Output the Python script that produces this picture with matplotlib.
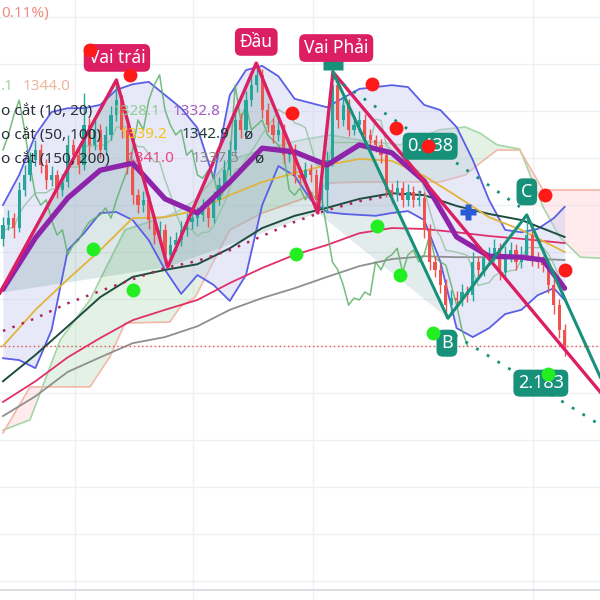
import numpy as np
import pandas as pd
import matplotlib
matplotlib.use("Agg")
import matplotlib.pyplot as plt

plt.rcParams['font.family'] = ['Noto Sans', 'DejaVu Sans']

# ---- OHLC (one candle per session, index 0..104) ----
opens = [1352.8, 1355.7, 1357.2, 1355.1, 1363.2, 1366.4, 1369.6, 1371.7, 1368.5, 1365.3,
         1366.4, 1363.2, 1364.9, 1372.8, 1370.6, 1368.5, 1377.0, 1372.8, 1376.0, 1371.7,
         1374.9, 1379.1, 1382.3, 1376.0, 1368.5, 1362.1, 1360.0, 1361.1, 1356.8, 1353.6,
         1354.7, 1349.4, 1351.5, 1352.5, 1354.7, 1356.4, 1357.2, 1357.9, 1359.4, 1357.2,
         1361.1, 1364.3, 1367.4, 1371.7, 1378.1, 1376.0, 1382.3, 1385.5, 1387.7, 1380.2,
         1377.0, 1374.9, 1376.0, 1370.6, 1371.7, 1366.4, 1365.7, 1367.4, 1366.4, 1361.1,
         1363.2, 1369.6, 1385.5, 1378.1, 1381.3, 1376.0, 1377.0, 1378.1, 1374.9, 1373.8,
         1372.8, 1370.6, 1363.2, 1362.1, 1363.6, 1361.1, 1362.8, 1361.1, 1361.5, 1354.7,
         1347.9, 1346.2, 1343.0, 1338.7, 1340.2, 1339.8, 1341.5, 1340.8, 1347.9, 1346.2,
         1348.7, 1349.4, 1350.8, 1345.7, 1349.4, 1350.4, 1347.9, 1349.4, 1353.6, 1348.7,
         1347.9, 1347.2, 1343.0, 1338.7, 1333.4]
closes = [1355.7, 1357.2, 1355.1, 1363.2, 1366.4, 1369.6, 1371.7, 1368.5, 1365.3, 1366.4,
          1363.2, 1364.9, 1372.8, 1370.6, 1368.5, 1377.0, 1372.8, 1376.0, 1371.7, 1374.9,
          1379.1, 1382.3, 1376.0, 1368.5, 1362.1, 1360.0, 1361.1, 1356.8, 1353.6, 1354.7,
          1349.4, 1351.5, 1352.5, 1354.7, 1356.4, 1357.2, 1357.9, 1359.4, 1357.2, 1361.1,
          1364.3, 1367.4, 1371.7, 1378.1, 1376.0, 1382.3, 1385.5, 1387.7, 1380.2, 1377.0,
          1374.9, 1376.0, 1370.6, 1371.7, 1366.4, 1365.7, 1367.4, 1366.4, 1361.1, 1363.2,
          1369.6, 1385.5, 1378.1, 1381.3, 1376.0, 1377.0, 1378.1, 1374.9, 1373.8, 1372.8,
          1370.6, 1363.2, 1362.1, 1363.6, 1361.1, 1362.8, 1361.1, 1361.5, 1354.7, 1347.9,
          1346.2, 1343.0, 1338.7, 1340.2, 1339.8, 1341.5, 1340.8, 1347.9, 1346.2, 1348.7,
          1349.4, 1350.8, 1345.7, 1349.4, 1350.4, 1347.9, 1349.4, 1353.6, 1348.7, 1347.9,
          1347.2, 1343.0, 1338.7, 1333.4, 1330.0]
highs = [1357.4, 1359.0, 1358.4, 1364.9, 1368.6, 1371.2, 1373.9, 1372.9, 1369.7, 1368.3,
         1367.5, 1366.7, 1374.8, 1374.0, 1371.9, 1383.8, 1378.6, 1378.2, 1377.3, 1376.8,
         1381.0, 1386.6, 1383.5, 1377.4, 1369.8, 1363.5, 1363.0, 1362.2, 1358.0, 1356.6,
         1355.9, 1353.4, 1354.3, 1356.5, 1358.3, 1358.9, 1359.5, 1361.2, 1360.6, 1363.0,
         1366.0, 1369.5, 1373.6, 1380.4, 1379.6, 1384.3, 1387.4, 1390.2, 1388.9, 1381.6,
         1378.5, 1378.0, 1377.2, 1373.5, 1372.9, 1368.1, 1369.2, 1368.8, 1367.6, 1365.0,
         1371.4, 1388.3, 1387.0, 1383.6, 1382.5, 1378.9, 1379.9, 1379.3, 1376.2, 1375.0,
         1374.1, 1371.8, 1364.6, 1365.4, 1364.8, 1364.5, 1364.0, 1363.3, 1362.7, 1355.9,
         1349.2, 1347.4, 1344.3, 1342.0, 1341.6, 1343.2, 1342.8, 1349.9, 1349.1, 1350.5,
         1351.0, 1352.7, 1352.0, 1351.2, 1352.1, 1351.7, 1351.3, 1357.9, 1354.9, 1350.1,
         1349.2, 1348.4, 1344.3, 1340.0, 1334.7]
lows = [1351.3, 1354.6, 1352.9, 1354.3, 1362.0, 1365.1, 1368.4, 1366.8, 1363.5, 1364.0,
        1361.4, 1362.0, 1363.9, 1368.8, 1366.6, 1367.4, 1371.0, 1371.6, 1370.0, 1370.7,
        1373.9, 1377.8, 1374.2, 1366.7, 1360.3, 1358.2, 1358.6, 1355.0, 1351.8, 1352.2,
        1347.2, 1348.0, 1350.2, 1351.3, 1353.5, 1354.8, 1355.6, 1356.5, 1355.4, 1356.1,
        1359.9, 1363.1, 1366.2, 1370.5, 1374.3, 1374.8, 1381.0, 1384.1, 1378.6, 1375.5,
        1373.2, 1373.6, 1368.9, 1369.2, 1364.7, 1364.0, 1364.6, 1365.0, 1358.6, 1359.3,
        1358.3, 1368.2, 1376.4, 1376.9, 1374.6, 1374.8, 1375.6, 1373.4, 1372.3, 1371.2,
        1369.0, 1361.7, 1360.5, 1360.9, 1359.6, 1359.8, 1359.5, 1359.7, 1352.9, 1346.1,
        1344.6, 1341.2, 1335.9, 1337.2, 1338.3, 1338.6, 1339.4, 1339.6, 1344.7, 1345.0,
        1347.3, 1348.1, 1344.0, 1344.5, 1347.9, 1346.2, 1346.6, 1348.2, 1347.0, 1346.5,
        1345.8, 1341.3, 1336.9, 1331.6, 1327.8]

# ---- moving averages, sampled every 6 sessions ----
ma_x = [0, 6, 12, 18, 24, 30, 36, 42, 48, 54, 60, 66, 72, 78, 84, 90, 96, 104]
ma_dark = [1322.5, 1328.1, 1334.2, 1340.4, 1344.7, 1346.2, 1347.4, 1350.8, 1355.1, 1357.7,
           1359.4, 1361.3, 1362.5, 1362.1, 1359.8, 1358.1, 1356.8, 1353.2]
ma_red = [1318.1, 1322.5, 1327.6, 1331.7, 1335.5, 1337.7, 1339.8, 1343.4, 1346.6, 1349.4,
          1351.5, 1354.0, 1355.1, 1354.9, 1354.2, 1353.4, 1352.8, 1351.9]
ma_gray = [1315.1, 1319.3, 1324.5, 1327.6, 1330.6, 1331.9, 1334.2, 1337.7, 1340.2, 1342.3,
           1344.7, 1347.0, 1348.5, 1349.1, 1348.9, 1348.9, 1348.7, 1348.3]
ma_yellow = [1330.0, 1337.7, 1344.2, 1350.4, 1357.2, 1357.4, 1358.9, 1362.1, 1364.9, 1366.8,
             1368.5, 1369.8, 1369.4, 1366.2, 1361.9, 1357.4, 1354.7, 1350.0]
dotted_x = [0, 6, 12, 18, 24, 30, 36, 42, 48, 54, 60, 66, 72, 78]
dotted_ma = [1333.2, 1335.9, 1339.1, 1341.7, 1344.2, 1346.6, 1348.1, 1350.4, 1353.4, 1356.4,
             1358.9, 1360.8, 1362.1, 1362.8]

# ---- Bollinger bands ----
basis_x = [0, 6, 12, 18, 24, 30, 36, 42, 48, 54, 60, 66, 72, 78, 84, 90, 96, 100, 104]
bb_basis = [1342.1, 1353.0, 1361.5, 1367.4, 1368.9, 1361.3, 1358.3, 1364.9, 1372.1, 1371.3,
            1368.5, 1372.8, 1371.1, 1365.1, 1353.2, 1349.1, 1348.9, 1348.3, 1342.3]
band_x = [0, 3, 6, 9, 12, 15, 18, 21, 24, 27, 30, 33, 36, 39, 42, 45, 48, 51, 54, 57,
          60, 63, 66, 69, 72, 75, 78, 81, 84, 87, 90, 93, 96, 99, 102, 104]
bb_upper = [1360.0, 1366.4, 1374.9, 1379.8, 1380.6, 1380.6, 1381.3, 1384.5, 1385.7, 1386.2,
            1383.4, 1380.6, 1376.4, 1365.7, 1383.4, 1388.7, 1389.6, 1387.4, 1382.6, 1381.7,
            1380.8, 1382.8, 1384.7, 1385.1, 1385.5, 1385.1, 1381.3, 1380.2, 1376.6, 1369.6,
            1361.1, 1354.7, 1354.2, 1354.9, 1357.2, 1359.6]
bb_lower = [1327.4, 1327.0, 1325.3, 1333.4, 1350.4, 1354.0, 1358.3, 1358.5, 1356.8, 1352.5,
            1346.2, 1341.1, 1345.1, 1343.0, 1339.6, 1345.1, 1360.0, 1368.3, 1366.2, 1361.1,
            1358.5, 1358.1, 1357.9, 1357.7, 1358.3, 1358.7, 1356.8, 1347.9, 1333.8, 1331.9,
            1333.8, 1336.8, 1337.7, 1340.8, 1342.3, 1339.8]

# ---- Ichimoku cloud ----
cloud_x = [0, 5.0, 10.6, 16.1, 19.8, 22.6, 30.9, 32.8, 35.6, 42.0, 48.0, 55.0, 60.6, 66.1,
           73.5, 80.9, 85.6, 88.3, 91.5, 95.7, 100.0, 103.1, 106.9, 110.6]
span_a = [1312.1, 1314.3, 1331.3, 1339.8, 1348.3, 1354.7, 1357.9, 1358.9, 1361.1, 1369.6,
          1371.7, 1373.8, 1374.9, 1373.8, 1372.8, 1376.0, 1376.6, 1375.3, 1372.8, 1371.9,
          1359.6, 1353.2, 1348.9, 1348.7]
span_b = [1311.5, 1321.3, 1321.3, 1321.3, 1327.7, 1334.9, 1335.1, 1338.3, 1340.4, 1354.7,
          1358.3, 1361.1, 1364.7, 1364.9, 1364.9, 1364.9, 1366.4, 1368.9, 1371.7, 1371.7,
          1363.2, 1363.2, 1363.2, 1363.2]
lag = 18

# ---- pattern drawings ----
hs_x = [-0.56, 21.0, 30.5, 46.9, 58.3, 61.1, 110.6]
hs_y = [1341.3, 1386.6, 1346.8, 1390.2, 1358.3, 1388.3, 1320.2]
abc_x = [61.1, 82.4, 97.0, 110.6]
abc_y = [1388.3, 1335.9, 1357.9, 1323.4]
fib1_x, fib1_y = [61.1, 95.7], [1387.2, 1359.6]
fib2_x, fib2_y = [83.7, 110.6], [1332.3, 1313.2]

red_dots_x = [16.1, 23.5, 53.5, 68.3, 72.8, 78.7, 100.4, 104.1]
red_dots_y = [1393.0, 1387.7, 1379.6, 1385.7, 1376.4, 1372.5, 1362.1, 1346.2]
green_dots_x = [16.7, 24.1, 54.3, 69.3, 73.5, 79.6, 100.9]
green_dots_y = [1350.6, 1341.9, 1349.6, 1355.5, 1345.1, 1332.8, 1324.0]
cross_x, cross_y = 86.1, 1358.5

hs_labels = [("Vai trái", 21.1, 1391.3), ("Đầu", 46.9, 1394.7), ("Vai Phải", 61.7, 1393.4)]
wave_labels = [("0.438", 79.1, 1372.5), ("C", 97.0, 1362.8), ("B", 82.2, 1330.6),
               ("2.183", 99.6, 1322.1)]

grid_prices = [1400, 1390, 1380, 1370, 1360, 1350, 1340, 1330, 1320, 1310, 1300, 1290, 1280]
grid_x = [13.3, 35.2, 57.4, 98.1]

UP, DOWN = '#26a69a', '#ef5350'
CRIMSON, TEAL = '#dc1f63', '#17917a'

fig = plt.figure(figsize=(6, 6), dpi=100)
ax = fig.add_axes([0, 0, 1, 1])
ax.set_xlim(-0.556, 110.556)
ax.set_ylim(1275.96, 1403.62)
ax.axis('off')

for p in grid_prices:
    ax.axhline(p, color='#eef0f4', lw=1, zorder=0)
for gx in grid_x:
    ax.axvline(gx, color='#eef0f4', lw=1, zorder=0)
ax.axhline(1278.1, color='#d6d8de', lw=1.2, zorder=0)

# cloud
cx = np.array(cloud_x)
sa, sb = np.array(span_a), np.array(span_b)
ax.fill_between(cx, sa, sb, where=sa >= sb, interpolate=True, color='#a5d6a7', alpha=0.3, lw=0, zorder=1)
ax.fill_between(cx, sa, sb, where=sa < sb, interpolate=True, color='#ffcdd2', alpha=0.4, lw=0, zorder=1)
ax.plot(cx, sa, color='#a5d6a7', lw=1.2, zorder=1.2)
ax.plot(cx, sb, color='#f2b9a6', lw=1.2, zorder=1.2)

# bollinger
ax.fill_between(band_x, bb_upper, bb_lower, color='#c5c8ee', alpha=0.4, lw=0, zorder=1.5)
ax.plot(band_x, bb_upper, color='#5a5fe6', lw=1.3, zorder=3)
ax.plot(band_x, bb_lower, color='#5a5fe6', lw=1.3, zorder=3)

# head & shoulders fills
for k in (0, 2):
    ax.fill(hs_x[k:k + 3], hs_y[k:k + 3], color='#3f7f7a', alpha=0.18, lw=0, zorder=2)
ax.fill([hs_x[4], hs_x[5], 82.4], [hs_y[4], hs_y[5], 1335.9], color='#3f7f7a', alpha=0.14, lw=0, zorder=2)

# moving averages
ax.plot(ma_x, ma_gray, color='#8f8f8f', lw=1.3, zorder=3)
ax.plot(ma_x, ma_red, color='#e0306a', lw=1.3, zorder=3)
ax.plot(ma_x, ma_dark, color='#1e4d40', lw=1.4, zorder=3)
ax.plot(ma_x, ma_yellow, color='#e2b43c', lw=1.3, zorder=3)
ax.plot(dotted_x, dotted_ma, color='#b0245e', lw=1.8, ls=(0, (1, 3)), zorder=3)

# lagging span and base line from the candles
cl = pd.Series(closes)
idx = np.arange(len(closes))
ax.plot(idx[lag:] - lag, cl.values[lag:], color='#5fb06a', lw=1.1, alpha=0.85, zorder=3)
base = (pd.Series(highs).rolling(9, min_periods=1).max() + pd.Series(lows).rolling(9, min_periods=1).min()) / 2
ax.plot(idx, base.values, color='#8fbf9a', lw=1.0, alpha=0.8, zorder=3)

# candles
o, c = np.array(opens), np.array(closes)
colors = np.where(c >= o, UP, DOWN)
ax.vlines(idx, lows, highs, colors=colors, lw=1, zorder=4)
ax.bar(idx, np.maximum(np.abs(c - o), 0.3), bottom=np.minimum(o, c), width=0.62,
       color=colors, lw=0, zorder=4.1)

ax.plot(basis_x, bb_basis, color='#8e24aa', lw=3.8, zorder=5, solid_capstyle='round')

ax.axhline(closes[-1], color='#ef5350', lw=1, ls=(0, (1, 2)), zorder=3)

# patterns
ax.plot(hs_x, hs_y, color=CRIMSON, lw=2.4, zorder=6)
ax.plot(abc_x, abc_y, color=TEAL, lw=2.2, zorder=6)
ax.plot(fib1_x, fib1_y, color=TEAL, lw=2, ls=(0, (1, 3.5)), zorder=6)
ax.plot(fib2_x, fib2_y, color=TEAL, lw=2, ls=(0, (1, 3.5)), zorder=6)

# teal point tag mostly hidden under the "Vai Phải" label
ax.plot(61.1, 1390.9, 's', color=TEAL, ms=14, mec='none', zorder=7)
for s, x, y in hs_labels:
    ax.text(x, y, s, ha='center', va='center', color='white', fontsize=12.5, zorder=8,
            bbox=dict(boxstyle='round,pad=0.28,rounding_size=0.35', fc=CRIMSON, ec='none'))
for s, x, y in wave_labels:
    ax.text(x, y, s, ha='center', va='center', color='white', fontsize=13, zorder=8,
            bbox=dict(boxstyle='round,pad=0.25,rounding_size=0.35', fc=TEAL, ec='none'))

ax.plot(red_dots_x, red_dots_y, 'o', color='#ff1a1a', ms=10, mec='none', zorder=9)
ax.plot(green_dots_x, green_dots_y, 'o', color='#22ee22', ms=10, mec='none', zorder=9)
ax.plot(cross_x, cross_y, 'P', color='#2a5bd7', ms=11, mec='none', zorder=9)

# legend text, showing only the part that is visible in the screenshot
def ftxt(x, y, s, color, ha='left', size=11):
    fig.text(x / 600, 1 - y / 600, s, color=color, ha=ha, va='center', fontsize=size, zorder=10)

ftxt(1, 14, "0.11%)", '#f08a80')
ftxt(1, 86, ".1", '#9fd49f')
ftxt(23, 86, "1344.0", '#e9b79c')
ftxt(1, 111, "o cắt (10, 20)", '#2a2e39')
ftxt(113, 111, "1328.1", '#8fcf8f')
ftxt(173, 111, "1332.8", '#a35cc2')
ftxt(1, 135, "o cắt (50, 100)", '#2a2e39')
ftxt(120, 135, "1339.2", '#f5c21b')
ftxt(182, 135, "1342.9", '#1d3d37')
ftxt(243, 135, "ø", '#2a2e39')
ftxt(1, 159, "o cắt (150, 200)", '#2a2e39')
ftxt(127, 159, "1341.0", '#e8457e')
ftxt(192, 159, "1337.5", '#8a8a8a')
ftxt(254, 159, "ø", '#2a2e39')

fig.savefig("out.png", dpi=100)
